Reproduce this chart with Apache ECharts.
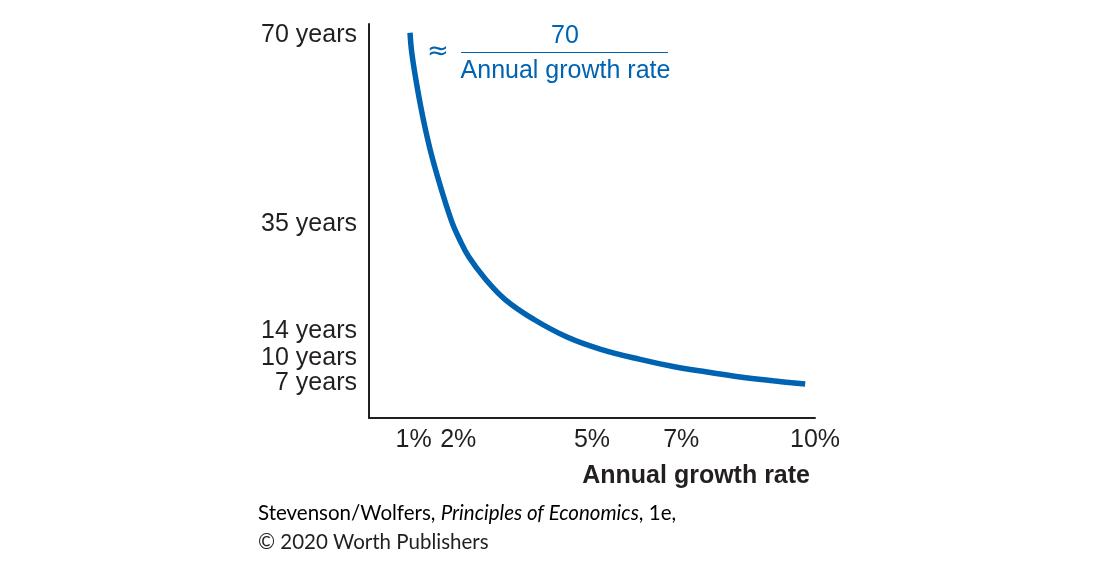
<!DOCTYPE html>
<html>
<head>
<meta charset="utf-8">
<script src="https://cdn.jsdelivr.net/npm/echarts@6/dist/echarts.min.js"></script>
<style>
html,body{margin:0;padding:0;background:#fff;}
#chart{width:1100px;height:574px;}
</style>
</head>
<body>
<div id="chart"></div>
<script>
// Curve: annual growth rate (%) vs years to double
const growthRate = [0.92, 0.96, 1.08, 1.23, 1.41, 1.64, 1.86, 2.02, 2.24, 2.60, 3.06, 3.70, 4.44, 5.18, 6.08, 6.82, 7.58, 8.32, 9.06, 9.78];
const yearsToDouble = [70.4, 66.7, 60.5, 54.1, 47.8, 41.3, 35.8, 32.8, 29.4, 25.5, 21.6, 18.0, 14.8, 12.6, 10.7, 9.4, 8.4, 7.5, 6.8, 6.2];

// X tick values and labels
const xTickValues = [1, 2, 5, 7, 10];
const xTickLabels = ['1%', '2%', '5%', '7%', '10%'];

// Y tick labels and the axis values where the picture places them (spread apart for legibility)
const yTickValues = [70, 35.4, 15.9, 11.0, 6.3];
const yTickLabels = ['70 years', '35 years', '14 years', '10 years', '7 years'];

const xAxisTitle = 'Annual growth rate';
const formulaNumerator = '70';
const formulaDenominator = 'Annual growth rate';
const sourceLine1 = [{t: 'Stevenson/Wolfers, ', i: false}, {t: 'Principles of Economics', i: true}, {t: ', 1e,', i: false}];
const sourceLine2 = '© 2020 Worth Publishers';

const BLUE = '#0063b1';
const INK = '#231f20';
const FONT = '"Liberation Sans", Arial, Helvetica, sans-serif';
const SRC_FONT = 'Lato, "Open Sans", sans-serif';

const chart = echarts.init(document.getElementById('chart'));

const yLabelMap = {};
yTickValues.forEach((v, i) => { yLabelMap[v] = yTickLabels[i]; });
const xLabelMap = {};
xTickValues.forEach((v, i) => { xLabelMap[v] = xTickLabels[i]; });

const srcRich = {
  n: {fontFamily: SRC_FONT, fontSize: 20.5, color: INK},
  it: {fontFamily: SRC_FONT, fontSize: 20.5, color: INK, fontStyle: 'italic'}
};
const srcText = sourceLine1.map(p => (p.i ? '{it|' : '{n|') + p.t + '}').join('');

chart.setOption({
  animation: false,
  backgroundColor: '#fff',
  grid: {left: 369, right: 285, top: 24, bottom: 156, containLabel: false},
  xAxis: {
    type: 'value', min: 0, max: 10,
    axisLine: {show: true, onZero: false, lineStyle: {color: INK, width: 2}},
    axisTick: {show: false},
    splitLine: {show: false},
    axisLabel: {
      customValues: xTickValues,
      formatter: v => xLabelMap[v] || '',
      fontFamily: FONT, fontSize: 25, color: INK, margin: 10
    }
  },
  yAxis: {
    type: 'value', min: 0, max: 72,
    axisLine: {show: true, onZero: false, lineStyle: {color: INK, width: 2}},
    axisTick: {show: false},
    splitLine: {show: false},
    axisLabel: {
      customValues: yTickValues,
      formatter: v => yLabelMap[v] || '',
      fontFamily: FONT, fontSize: 25, color: INK, margin: 12
    }
  },
  series: [{
    type: 'line',
    data: growthRate.map((x, i) => [x, yearsToDouble[i]]),
    smooth: 0.4,
    showSymbol: false,
    lineStyle: {color: BLUE, width: 5.5},
    silent: true
  }],
  graphic: [
    {type: 'text', x: 438, y: 52, style: {text: '≈', fontFamily: '"DejaVu Sans", sans-serif', fontSize: 26, fill: BLUE, align: 'center', verticalAlign: 'middle'}},
    {type: 'text', x: 565, y: 36, style: {text: formulaNumerator, fontFamily: FONT, fontSize: 25, fill: BLUE, align: 'center', verticalAlign: 'middle'}},
    {type: 'line', shape: {x1: 461, y1: 52.5, x2: 668, y2: 52.5}, style: {stroke: BLUE, lineWidth: 1.2}},
    {type: 'text', x: 565.5, y: 71, style: {text: formulaDenominator, fontFamily: FONT, fontSize: 25, fill: BLUE, align: 'center', verticalAlign: 'middle'}},
    {type: 'text', x: 810, y: 476, style: {text: xAxisTitle, fontFamily: FONT, fontSize: 25, fontWeight: 'bold', fill: INK, align: 'right', verticalAlign: 'middle'}},
    {type: 'text', x: 258, y: 513, style: {text: srcText, rich: srcRich, verticalAlign: 'middle', align: 'left'}},
    {type: 'text', x: 258, y: 542, style: {text: sourceLine2, fontFamily: SRC_FONT, fontSize: 20.5, fill: INK, verticalAlign: 'middle', align: 'left'}}
  ]
});
</script>
</body>
</html>
